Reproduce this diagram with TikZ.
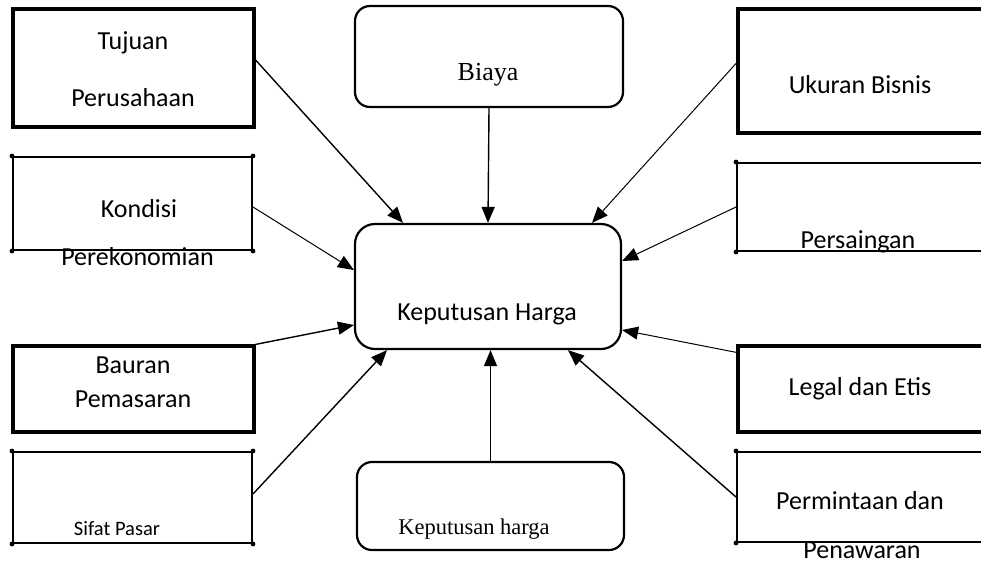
\documentclass[tikz,border=0pt]{standalone}
\usepackage{fontspec}
\setmainfont{Liberation Serif}
\newfontfamily\labelfont{Carlito}
\usetikzlibrary{arrows.meta}

\begin{document}
\begin{tikzpicture}[x=1pt,y=-1pt,
  heavybox/.style={draw, line width=3.2pt, inner sep=0pt},
  lightbox/.style={draw, line width=2pt, inner sep=0pt},
  roundbox/.style={draw, line width=2.2pt, inner sep=0pt, rounded corners=#1},
  sanslabel/.style={font=\labelfont\fontsize{26}{30}\selectfont, anchor=base, inner sep=0pt},
  smalllabel/.style={font=\labelfont\fontsize{20.5}{24}\selectfont, anchor=base, inner sep=0pt},
  seriflabel/.style={font=\fontsize{#1}{30}\selectfont, anchor=base, inner sep=0pt},
  link/.style={line width=1.4pt, -{Triangle[length=16pt,width=13pt]}},
  thinlink/.style={link, line width=1pt}]

\clip (0,0) rectangle (981,563);
\fill[white] (0,0) rectangle (981,563);

% ---- labels ----
\node[sanslabel] (tujA) at (133,49) {Tujuan};
\node[sanslabel] (tujB) at (133,106) {Perusahaan};
\node[sanslabel] (konA) at (139,217) {Kondisi};
\node[sanslabel] (konB) at (137.5,265) {Perekonomian};
\node[sanslabel] (bauA) at (133,373) {Bauran};
\node[sanslabel] (bauB) at (133,407) {Pemasaran};
\node[smalllabel] (sifA) at (117,535) {Sifat Pasar};
\node[sanslabel] (ukuA) at (860,93) {Ukuran Bisnis};
\node[sanslabel] (perA) at (858,248) {Persaingan};
\node[sanslabel] (legA) at (860,395) {Legal dan Etis};
\node[sanslabel] (pmtA) at (860,509) {Permintaan dan};
\node[sanslabel] (pmtB) at (862,558) {Penawaran};
\node[seriflabel=26] (biaA) at (488,80) {Biaya};
\node[sanslabel] (khA) at (487,320) {Keputusan Harga};
\node[seriflabel=22.5] (kbA) at (474,534) {Keputusan harga};

% ---- left column ----
\node[heavybox, minimum width=241pt, minimum height=118pt] (tuj) at (133.5,68) {};
\node[lightbox, minimum width=239pt, minimum height=93pt]  (kon) at (132.5,203.5) {};
\node[heavybox, minimum width=241pt, minimum height=86pt]  (bau) at (133.5,389) {};
\node[lightbox, minimum width=239pt, minimum height=91pt]  (sif) at (132.5,497.5) {};

% ---- right column (runs past the right edge) ----
\node[heavybox, minimum width=262pt, minimum height=124pt] (uku) at (869,71) {};
\node[lightbox, minimum width=263pt, minimum height=88pt]  (per) at (868.5,207) {};
\node[heavybox, minimum width=262pt, minimum height=86pt]  (leg) at (869,389) {};
\node[lightbox, minimum width=263pt, minimum height=90pt]  (pmt) at (868.5,497) {};

% ---- centre column ----
\node[roundbox=15pt, minimum width=268pt, minimum height=101pt] (bia) at (489,56.5) {};
\node[roundbox=20pt, minimum width=266pt, minimum height=125pt] (kh)  at (488,286.5) {};
\node[roundbox=15pt, minimum width=267pt, minimum height=88pt]  (kb)  at (490.5,506) {};

% corner dots of the thin frames
\foreach \b in {kon,sif,per,pmt}
  \foreach \a in {north west,north east,south west,south east}
    \fill (\b.\a) circle (2.4pt);

% ---- connectors ----
\draw[link] ([yshift=8pt]tuj.east) -- ([xshift=-85pt]kh.north);
\draw[link] (bia.south) -- (kh.north);
\draw[thinlink] ([yshift=8pt]uku.west) -- ([xshift=104pt]kh.north);
\draw[thinlink] ([yshift=-3.5pt]kon.east) -- ([yshift=16.5pt]kh.west);
\draw[thinlink] (per.west) -- ([yshift=25.5pt]kh.east);
\draw[link] (bau.north east) -- ([yshift=-38.5pt]kh.west);
\draw[thinlink] ([yshift=-8pt]leg.north west) -- ([yshift=-43.5pt]kh.east);
\draw[link] ([yshift=3.5pt]sif.east) -- ([xshift=-101pt]kh.south);
\draw[link] (kb.north) -- (kb.north |- kh.south);
\draw[link] (pmt.west) -- ([xshift=80pt]kh.south);
\end{tikzpicture}
\end{document}
